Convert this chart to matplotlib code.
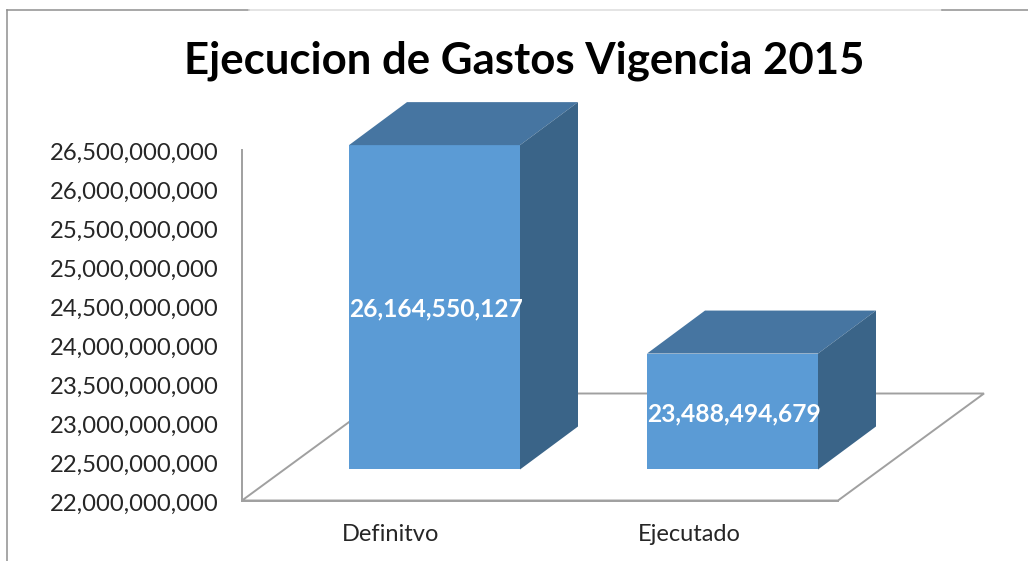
import matplotlib
matplotlib.use('Agg')
import matplotlib.pyplot as plt
from matplotlib.lines import Line2D
from matplotlib.patches import Polygon
from matplotlib.transforms import Affine2D

categorias = ['Definitvo', 'Ejecutado']
valores = [26164550127, 23488494679]
etiquetas = ['26,164,550,127', '23,488,494,679']
ticks_y = [22000000000, 22500000000, 23000000000, 23500000000, 24000000000,
           24500000000, 25000000000, 25500000000, 26000000000, 26500000000]
ticks_txt = ['22,000,000,000', '22,500,000,000', '23,000,000,000', '23,500,000,000', '24,000,000,000',
             '24,500,000,000', '25,000,000,000', '25,500,000,000', '26,000,000,000', '26,500,000,000']

W, H = 1028, 561
plt.rcParams['font.family'] = ['Lato', 'DejaVu Sans']

fig = plt.figure(figsize=(W / 100, H / 100), dpi=100)
ax = fig.add_axes([242 / W, 60.5 / H, 596 / W, 350.5 / H])
ax.set_xlim(-0.5, 1.5)
ax.set_ylim(22000000000, 26500000000)
ax.patch.set_alpha(0)

# pixel to data size
ux = 2 / 596
uy = 4500000000 / 350.5
base = ticks_y[0]
gris = '#a0a0a0'

# floor
ax.add_patch(Polygon([(-0.5, base), (-0.5 + 146 * ux, base + 107 * uy),
                      (1.5 + 146 * ux, base + 107 * uy), (1.5, base)],
                     closed=True, fc='white', ec=gris, lw=1.4, clip_on=False, zorder=1))

# bars sit back on the floor
sx, sy = 43.5 * ux, 31 * uy
dx, dy = 58 * ux, 43 * uy
ancho = 171 * ux
for i, v in enumerate(valores):
    ax.bar(i + sx, v - base, width=ancho, bottom=base + sy, color='#5b9bd5', clip_on=False, zorder=3)
    x0 = i + sx - ancho / 2
    x1 = i + sx + ancho / 2
    top = v + sy
    ax.add_patch(Polygon([(x0, top), (x0 + dx, top + dy), (x1 + dx, top + dy), (x1, top)],
                         closed=True, fc='#4675a1', ec='none', clip_on=False, zorder=3))
    ax.add_patch(Polygon([(x1, base + sy), (x1 + dx, base + sy + dy), (x1 + dx, top + dy), (x1, top)],
                         closed=True, fc='#3a6488', ec='none', clip_on=False, zorder=3))
    ax.text(i + sx + 2 * ux, (v + base) / 2 + sy - 2 * uy, etiquetas[i], color='white', fontsize=17.7,
            fontweight='bold', ha='center', va='center', zorder=4)

ax.set_xticks(range(len(categorias)))
ax.set_xticklabels(categorias, fontsize=17, color='#262626')
ax.set_yticks(ticks_y)
ax.set_yticklabels(ticks_txt, fontsize=17.2, color='#262626')
ax.tick_params(length=0)
ax.tick_params(axis='y', pad=17)
ax.tick_params(axis='x', pad=17)
for lab in ax.get_yticklabels():
    lab.set_transform(lab.get_transform() + Affine2D().translate(0, -1.5))
for s in ['top', 'right']:
    ax.spines[s].set_visible(False)
for s in ['left', 'bottom']:
    ax.spines[s].set_color(gris)
    ax.spines[s].set_linewidth(1.4)

fig.text(524 / W, 1 - 60.5 / H, 'Ejecucion de Gastos Vigencia 2015', fontsize=31.5, fontweight='bold',
         color='black', ha='center', va='center')

# frame of the screenshot
fig.add_artist(Line2D([7 / W, 7 / W], [0, 1 - 10 / H], color='#909090', lw=1.1))
fig.add_artist(Line2D([7 / W, 249 / W], [1 - 10 / H, 1 - 10 / H], color='#909090', lw=1.1))
fig.add_artist(Line2D([249 / W, 942 / W], [1 - 10 / H, 1 - 10 / H], color='#dcdcdc', lw=1.1))
fig.add_artist(Line2D([942 / W, 1], [1 - 10 / H, 1 - 10 / H], color='#909090', lw=1.1))

fig.savefig('out.png', dpi=100)
